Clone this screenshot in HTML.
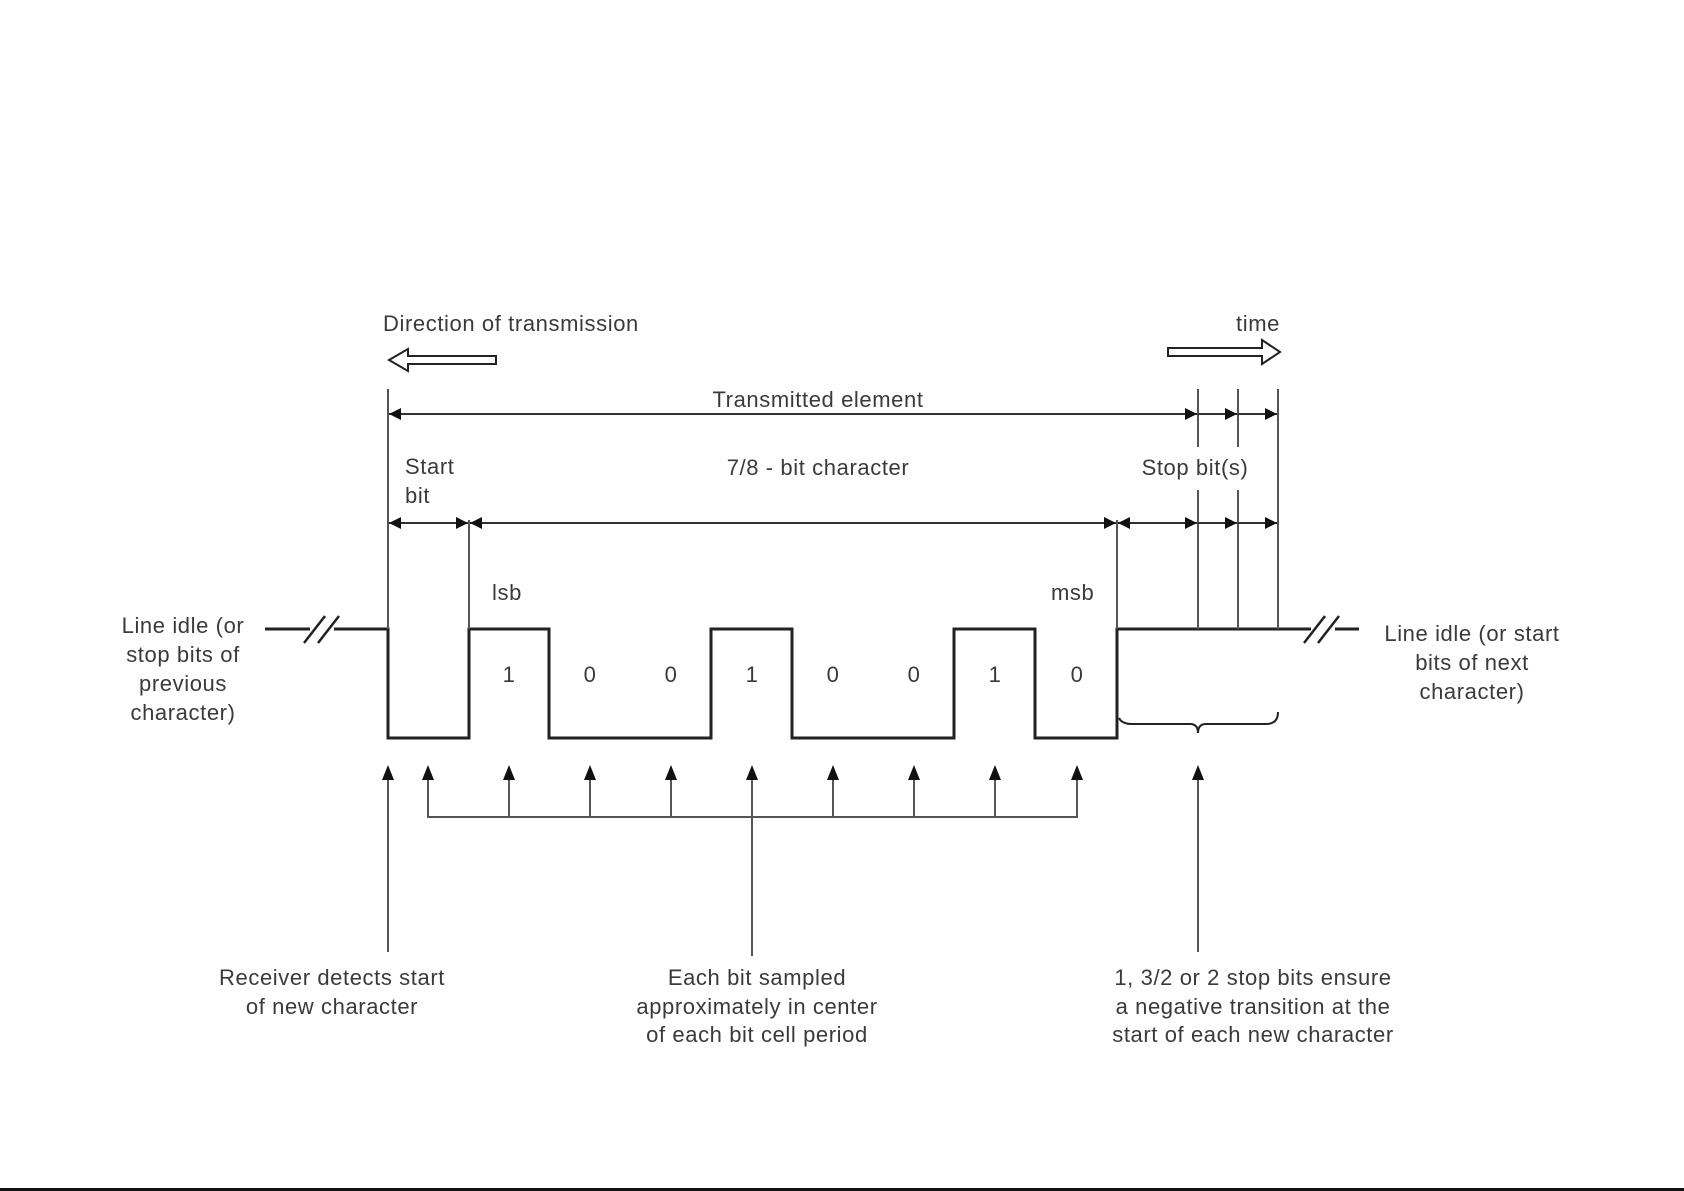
<!DOCTYPE html>
<html><head><meta charset="utf-8"><style>
html,body{margin:0;padding:0;background:#fff;}
svg{display:block;}
text{font-family:"Liberation Sans",Arial,sans-serif;font-size:22px;letter-spacing:0.6px;fill:#3a3a3a;}
</style></head><body>
<svg width="1684" height="1191" viewBox="0 0 1684 1191" xmlns="http://www.w3.org/2000/svg">
<defs>
<marker id="a" viewBox="0 0 10 10" refX="10" refY="5" markerWidth="12" markerHeight="12" markerUnits="userSpaceOnUse" orient="auto-start-reverse"><path d="M0,0 L10,5 L0,10 z" fill="#111"/></marker>
</defs>
<rect x="0" y="1188" width="1684" height="3" fill="#111"/>
<g stroke="#222" fill="none">
<path d="M265,629 H388 V738 H469 V629 H549 V738 H711 V629 H792 V738 H954 V629 H1035 V738 H1117 V629 H1359" stroke-width="3"/>
<g stroke="#fff" stroke-width="8"><line x1="310" y1="629" x2="334" y2="629"/><line x1="1311" y1="629" x2="1335" y2="629"/></g>
<g stroke-width="2.5"><line x1="304" y1="643" x2="325" y2="616"/><line x1="318" y1="643" x2="339" y2="616"/>
<line x1="1304" y1="643" x2="1325" y2="616"/><line x1="1318" y1="643" x2="1339" y2="616"/></g>
<g stroke="#555" stroke-width="2">
<line x1="388" y1="389" x2="388" y2="629"/>
<line x1="469" y1="520" x2="469" y2="629"/>
<line x1="1117" y1="520" x2="1117" y2="629"/>
<line x1="1198" y1="389" x2="1198" y2="447"/><line x1="1198" y1="490" x2="1198" y2="629"/>
<line x1="1238" y1="389" x2="1238" y2="447"/><line x1="1238" y1="490" x2="1238" y2="629"/>
<line x1="1278" y1="389" x2="1278" y2="629"/>
</g>
<g stroke="#333" stroke-width="2">
<line x1="389" y1="414" x2="1197" y2="414" marker-start="url(#a)" marker-end="url(#a)"/>
<line x1="1198" y1="414" x2="1237" y2="414" marker-end="url(#a)"/>
<line x1="1238" y1="414" x2="1277" y2="414" marker-end="url(#a)"/>
<line x1="389" y1="523" x2="468" y2="523" marker-start="url(#a)" marker-end="url(#a)"/>
<line x1="470" y1="523" x2="1116" y2="523" marker-start="url(#a)" marker-end="url(#a)"/>
<line x1="1118" y1="523" x2="1197" y2="523" marker-start="url(#a)" marker-end="url(#a)"/>
<line x1="1198" y1="523" x2="1237" y2="523" marker-end="url(#a)"/>
<line x1="1238" y1="523" x2="1277" y2="523" marker-end="url(#a)"/>
</g>
<path d="M496,356 H408 V349 L389,360 L408,371 V364 H496 Z" stroke-width="2"/>
<path d="M1168,348 H1262 V340 L1280,352 L1262,364 V356 H1168 Z" stroke-width="2"/>
<path d="M1119,718 Q1122,724 1132,724 H1190 Q1198,724 1198,733 Q1198,724 1206,724 H1266 Q1278,724 1278,712" stroke-width="2"/>
<g stroke="#555" stroke-width="2">
<path d="M428,770 V817 H1077 V770"/>
<line x1="509" y1="770" x2="509" y2="817"/><line x1="590" y1="770" x2="590" y2="817"/>
<line x1="671" y1="770" x2="671" y2="817"/><line x1="752" y1="770" x2="752" y2="956"/>
<line x1="833" y1="770" x2="833" y2="817"/><line x1="914" y1="770" x2="914" y2="817"/>
<line x1="995" y1="770" x2="995" y2="817"/>
<line x1="388" y1="770" x2="388" y2="952"/>
<line x1="1198" y1="770" x2="1198" y2="952"/>
</g>
</g>
<g fill="#111">
<path d="M388,765 l-6,15 h12z"/><path d="M428,765 l-6,15 h12z"/><path d="M509,765 l-6,15 h12z"/>
<path d="M590,765 l-6,15 h12z"/><path d="M671,765 l-6,15 h12z"/><path d="M752,765 l-6,15 h12z"/>
<path d="M833,765 l-6,15 h12z"/><path d="M914,765 l-6,15 h12z"/><path d="M995,765 l-6,15 h12z"/>
<path d="M1077,765 l-6,15 h12z"/><path d="M1198,765 l-6,15 h12z"/>
</g>
<text x="383" y="331">Direction of transmission</text>
<text x="1280" y="331" text-anchor="end">time</text>
<text x="818" y="407" text-anchor="middle">Transmitted element</text>
<text x="405" y="474">Start</text>
<text x="405" y="503">bit</text>
<text x="818" y="475" text-anchor="middle">7/8 - bit character</text>
<text x="1195" y="475" text-anchor="middle">Stop bit(s)</text>
<text x="492" y="600">lsb</text>
<text x="1051" y="600">msb</text>
<g text-anchor="middle">
<text x="509" y="682">1</text><text x="590" y="682">0</text><text x="671" y="682">0</text><text x="752" y="682">1</text>
<text x="833" y="682">0</text><text x="914" y="682">0</text><text x="995" y="682">1</text><text x="1077" y="682">0</text>
<text x="183" y="633">Line idle (or</text>
<text x="183" y="662">stop bits of</text>
<text x="183" y="691">previous</text>
<text x="183" y="720">character)</text>
<text x="1472" y="641">Line idle (or start</text>
<text x="1472" y="670">bits of next</text>
<text x="1472" y="699">character)</text>
<text x="332" y="985">Receiver detects start</text>
<text x="332" y="1014">of new character</text>
<text x="757" y="985">Each bit sampled</text>
<text x="757" y="1014">approximately in center</text>
<text x="757" y="1042">of each bit cell period</text>
<text x="1253" y="985">1, 3/2 or 2 stop bits ensure</text>
<text x="1253" y="1014">a negative transition at the</text>
<text x="1253" y="1042">start of each new character</text>
</g>
</svg>
</body></html>
